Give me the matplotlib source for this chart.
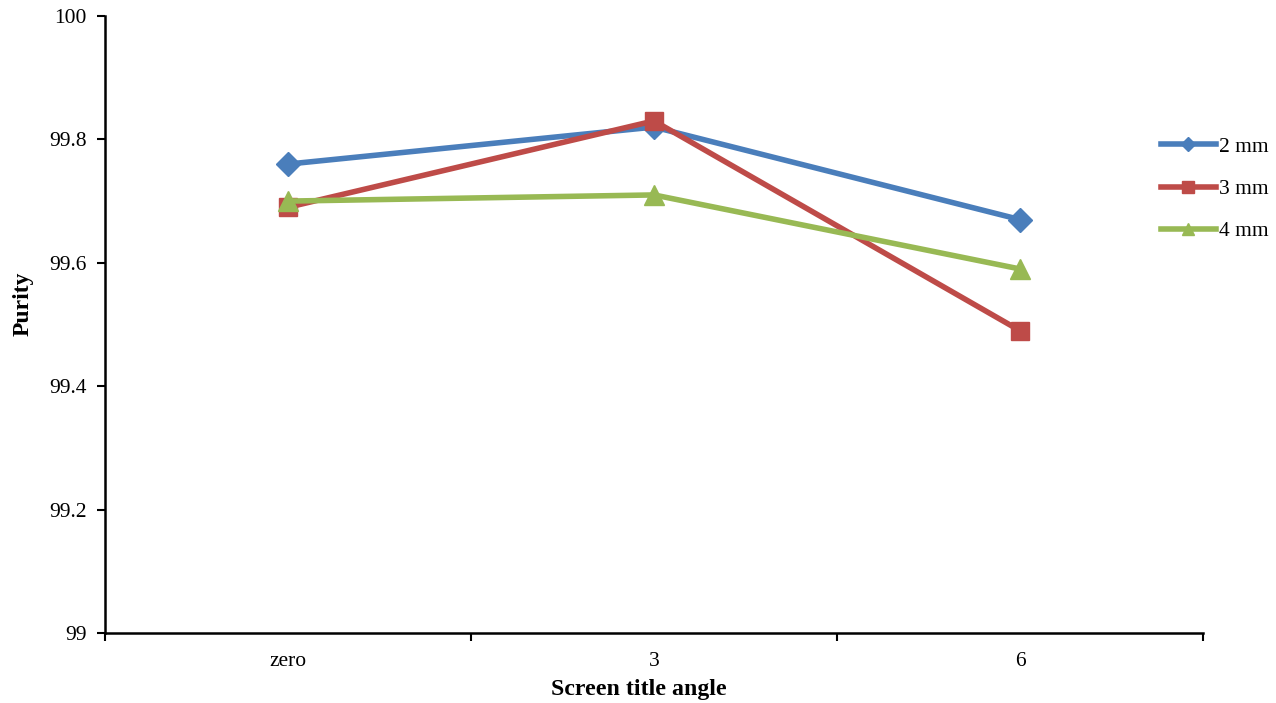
import matplotlib
matplotlib.use("Agg")
import matplotlib.pyplot as plt
from matplotlib.ticker import FixedLocator, NullFormatter

categories = ["zero", "3", "6"]
series_names = ["2 mm", "3 mm", "4 mm"]
s2mm = [99.76, 99.82, 99.67]
s3mm = [99.69, 99.83, 99.49]
s4mm = [99.70, 99.71, 99.59]
yticks = [99, 99.2, 99.4, 99.6, 99.8, 100]

plt.rcParams['font.family'] = ['Liberation Serif', 'DejaVu Serif']

fig = plt.figure(figsize=(12.76, 7.03), dpi=100)
ax = fig.add_axes([105/1276, 70/703, (1203-105)/1276, (633-16)/703])

x = list(range(len(categories)))
styles = [("#4A7EBB", "D", 12.5), ("#BE4B48", "s", 13.5), ("#98B954", "^", 15)]
for vals, name, (c, m, ms) in zip([s2mm, s3mm, s4mm], series_names, styles):
    ax.plot(x, vals, color=c, marker=m, markersize=ms, linewidth=4, label=name)

ax.set_xlim(-0.5, len(categories) - 0.5)
ax.set_ylim(99, 100)
ax.set_yticks(yticks)
ax.set_yticklabels(["99", "99.2", "99.4", "99.6", "99.8", "100"])
ax.set_xticks(x)
ax.set_xticklabels(categories)
ax.xaxis.set_minor_locator(FixedLocator([i - 0.5 for i in range(len(categories) + 1)]))
ax.xaxis.set_minor_formatter(NullFormatter())
ax.tick_params(axis='x', which='major', length=0, pad=14, labelsize=15.5)
ax.tick_params(axis='x', which='minor', length=6, width=1.5, direction='out')
ax.tick_params(axis='y', length=6, width=1.5, direction='out', labelsize=15.5, pad=7)

for s in ['top', 'right']:
    ax.spines[s].set_visible(False)
for s in ['left', 'bottom']:
    ax.spines[s].set_linewidth(1.8)

ax.set_ylabel("Purity", fontsize=17, fontweight='bold', va='center')
ax.yaxis.set_label_coords((23 - 105) / 1098, (633 - 304) / 617)
ax.set_xlabel("Screen title angle", fontsize=17.2, fontweight='bold', va='center')
ax.xaxis.set_label_coords((639 - 105) / 1098, (633 - 690) / 617)

leg = fig.legend(loc='center left', bbox_to_anchor=(1152/1276, 1 - 189/703),
                 frameon=False, fontsize=15.5, handlelength=2.55, labelspacing=1.03,
                 markerscale=0.6, handletextpad=0.15, borderaxespad=0)

fig.savefig("out.png", dpi=100)
